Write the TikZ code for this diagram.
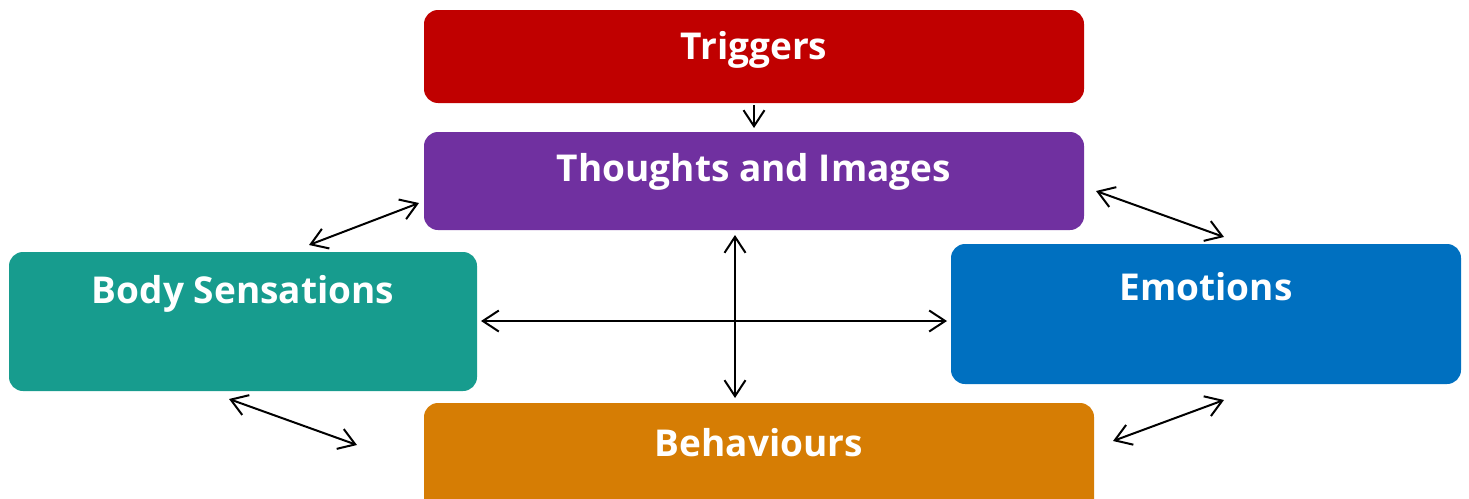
\documentclass[tikz,border=0pt]{standalone}
\usepackage{fontspec}
\setmainfont{Open Sans}
\usetikzlibrary{arrows.meta}
\definecolor{cred}{HTML}{C00000}
\definecolor{cpurple}{HTML}{7030A0}
\definecolor{cteal}{HTML}{179C8E}
\definecolor{cblue}{HTML}{0070C0}
\definecolor{corange}{HTML}{D67D04}
\begin{document}
\begin{tikzpicture}[x=1pt,y=-1pt,
  box/.style={rounded corners=14pt},
  lbl/.style={text=white,font=\fontsize{37}{40}\selectfont\bfseries,inner sep=0pt},
  link/.style={draw=black,line width=2pt,{Straight Barb[length=16pt,width=21pt]}-{Straight Barb[length=16pt,width=21pt]}},
  onelink/.style={draw=black,line width=2pt,-{Straight Barb[length=16pt,width=21pt]}}]
\useasboundingbox (0,0) rectangle (1469,498);
% boxes
\fill[cred,box] (424,10) rectangle (1084,103);
\fill[cpurple,box] (424,132) rectangle (1084,230);
\fill[cteal,box] (9,252) rectangle (477,391);
\fill[cblue,box] (951,244) rectangle (1461,384);
\begin{scope}
\clip (0,0) rectangle (1469,498);
\fill[corange,box] (424,403) rectangle (1094,515);
\end{scope}
% labels
\node[lbl] (trig) at (754,50) {Triggers};
\node[lbl] (thou) at (754,172) {Thoughts and Images};
\node[lbl] (body) at (243,294) {Body Sensations};
\node[lbl] (emot) at (1206,287) {Emotions};
\node[lbl] (beha) at (759,443) {Behaviours};
% connector ends
\coordinate (a1) at (754,105); \coordinate (a2) at (754,128);
\coordinate (b1) at (419,203); \coordinate (b2) at (309,245);
\coordinate (c1) at (1096,191); \coordinate (c2) at (1224,237);
\coordinate (d1) at (735,235); \coordinate (d2) at (735,398);
\coordinate (e1) at (481,321); \coordinate (e2) at (947,321);
\coordinate (f1) at (229,399); \coordinate (f2) at (357,445);
\coordinate (g1) at (1113,441); \coordinate (g2) at (1224,400);
\draw[onelink] (a1) -- (a2);
\draw[link] (b1) -- (b2);
\draw[link] (c1) -- (c2);
\draw[link] (d1) -- (d2);
\draw[link] (e1) -- (e2);
\draw[link] (f1) -- (f2);
\draw[link] (g1) -- (g2);
\end{tikzpicture}
\end{document}
